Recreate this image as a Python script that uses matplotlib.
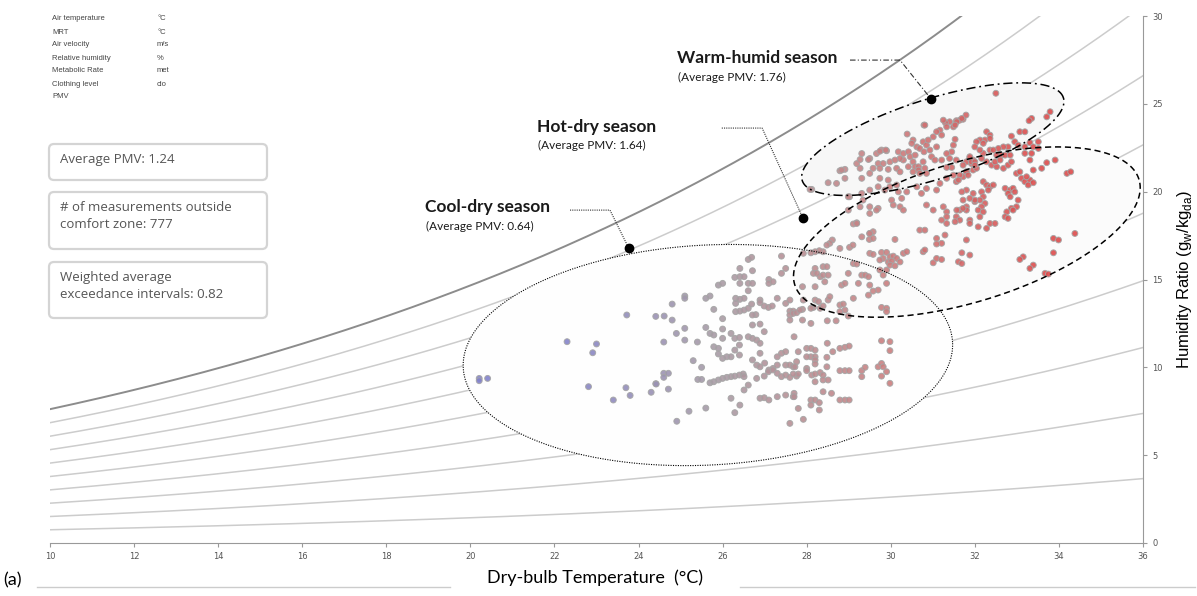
import numpy as np
import matplotlib.pyplot as plt
from matplotlib.colors import LinearSegmentedColormap, Normalize
from matplotlib.patches import FancyBboxPatch
from matplotlib.lines import Line2D
from matplotlib.transforms import IdentityTransform

cool_pts = [
    (22.3, 11.46), (23.0, 11.33), (22.91, 10.83), (20.21, 9.37), (20.21, 9.24), (20.41, 9.37),
    (22.81, 8.9), (23.4, 8.14), (23.8, 8.4), (24.3, 8.58), (24.41, 9.07), (24.71, 8.76), (23.7, 8.84),
    (23.72, 12.98), (24.41, 12.9), (24.61, 12.92), (24.8, 12.69), (24.8, 13.6), (25.1, 14.06),
    (25.1, 13.93), (25.6, 13.93), (25.7, 14.06), (24.6, 11.44), (24.9, 11.93), (25.1, 12.22),
    (25.1, 11.55), (25.4, 11.44), (24.6, 9.66), (24.6, 9.43), (24.71, 9.66), (24.91, 6.93),
    (25.2, 7.5), (25.6, 7.68), (25.3, 10.38), (25.5, 10.0), (25.41, 9.31), (25.5, 9.31), (24.42, 9.05),
    (25.79, 13.3), (26.0, 12.77), (26.0, 12.18), (25.6, 12.27), (25.9, 14.68), (26.0, 14.78),
    (26.29, 15.12), (26.41, 15.63), (26.61, 16.14), (26.69, 16.26), (26.71, 15.5), (26.41, 14.78),
    (26.61, 14.78), (26.71, 14.78), (26.61, 14.36), (26.31, 13.93), (26.41, 13.87), (26.51, 13.93),
    (26.31, 13.64), (26.31, 13.17), (26.41, 13.2), (26.51, 13.26), (26.61, 13.36), (26.69, 13.6),
    (26.89, 13.83), (26.89, 13.68), (26.79, 13.0), (26.71, 12.98), (26.99, 13.49), (27.09, 13.41),
    (27.18, 13.49), (27.3, 13.93), (27.5, 13.64), (27.6, 13.83), (27.6, 13.2), (27.6, 12.98),
    (27.6, 12.69), (27.68, 13.2), (27.1, 15.0), (27.1, 14.78), (27.2, 14.87), (27.4, 15.35),
    (27.5, 15.63), (27.4, 16.33), (26.41, 15.16), (26.51, 15.16), (26.71, 12.41), (26.89, 12.46),
    (26.99, 12.03), (25.7, 11.93), (25.79, 11.84), (26.0, 11.65), (25.79, 11.17), (25.9, 11.08),
    (25.9, 10.76), (26.0, 10.51), (26.1, 10.6), (26.2, 11.93), (26.29, 11.65), (26.4, 11.7),
    (26.4, 11.27), (26.29, 10.98), (26.4, 10.7), (26.2, 10.6), (26.61, 11.74), (26.71, 11.65),
    (26.81, 11.55), (26.89, 11.37), (26.89, 10.8), (26.71, 10.42), (26.81, 10.13), (26.89, 10.03),
    (27.0, 10.24), (27.1, 9.85), (27.2, 9.94), (27.3, 10.13), (27.4, 10.8), (27.5, 10.89),
    (27.3, 10.6), (27.5, 10.13), (27.6, 10.13), (27.68, 10.03), (27.76, 10.32),
    (25.7, 9.12), (25.79, 9.18), (25.9, 9.28), (26.0, 9.37), (26.1, 9.43), (26.2, 9.47),
    (26.29, 9.5), (26.4, 9.56), (26.49, 9.62), (26.51, 9.47), (26.81, 9.37), (26.99, 9.5),
    (27.09, 9.75), (27.2, 9.85), (27.3, 9.66), (27.4, 9.47), (27.5, 9.56), (27.6, 9.43), (27.76, 9.5),
    (26.61, 8.99), (26.51, 8.71), (26.89, 8.24), (26.99, 8.27), (27.1, 8.14), (27.3, 8.33),
    (27.5, 8.42), (27.68, 8.33), (26.2, 8.24), (26.41, 7.85), (26.29, 7.42), (27.6, 6.81),
]

mid_pts = [
    (29.11, 18.16), (29.19, 18.23), (28.61, 17.25), (28.55, 17.06), (28.48, 16.96), (29.31, 17.43),
    (29.5, 17.62), (29.58, 17.72), (29.49, 17.28), (29.58, 17.34), (30.1, 17.28), (30.69, 17.81),
    (30.81, 17.81), (31.09, 17.34), (31.29, 17.53), (31.21, 17.06), (31.09, 17.02), (30.77, 16.58),
    (30.81, 16.68), (31.01, 15.95), (31.09, 16.2), (31.21, 16.14), (28.79, 16.77), (29.02, 16.83),
    (29.1, 16.96), (28.39, 16.58), (28.3, 16.64), (28.2, 16.58), (28.1, 16.52), (27.92, 16.49),
    (29.5, 16.49), (29.58, 16.43), (29.78, 16.54), (29.9, 16.54), (29.82, 16.2), (29.74, 16.11),
    (29.98, 16.29), (30.06, 16.33), (30.14, 16.2), (30.22, 16.0), (30.3, 16.49), (30.38, 16.58),
    (29.94, 16.0), (30.02, 16.05), (29.9, 15.54), (29.74, 15.54), (29.82, 15.25), (29.98, 15.82),
    (30.1, 15.78), (29.11, 15.91), (29.19, 15.88), (28.99, 15.35), (29.31, 15.25), (29.39, 15.25),
    (29.47, 15.16), (29.23, 14.78), (29.5, 14.68), (29.7, 14.4), (29.58, 14.34), (29.47, 14.11),
    (29.9, 14.78), (28.39, 15.73), (28.48, 15.73), (28.2, 15.63), (28.32, 15.16), (28.39, 15.25),
    (28.51, 15.25), (28.43, 14.87), (28.83, 14.68), (28.91, 14.78), (28.16, 15.35), (28.24, 15.35),
    (28.2, 14.59), (27.9, 14.59), (29.11, 13.93), (28.51, 13.83), (28.55, 14.02), (28.2, 13.83),
    (28.28, 13.74), (28.16, 13.41), (28.32, 13.36), (28.39, 13.49), (28.1, 13.36), (27.92, 13.83),
    (27.9, 13.3), (28.79, 13.55), (28.87, 13.6), (28.91, 13.26), (28.79, 13.17), (28.99, 12.92),
    (29.78, 13.41), (29.9, 13.36), (29.9, 13.17), (27.68, 13.07), (27.76, 13.11), (27.84, 13.26),
    (27.9, 12.69), (28.1, 12.5), (28.49, 12.65), (28.7, 12.65), (27.7, 11.74), (29.78, 11.51),
    (29.98, 11.46), (29.98, 10.95), (28.79, 11.08), (28.91, 11.14), (29.01, 11.21), (28.49, 11.37),
    (28.62, 10.89), (27.8, 10.89), (28.0, 11.08), (28.1, 11.08), (28.2, 10.98), (28.1, 10.6),
    (28.0, 10.6), (28.2, 10.6), (28.2, 10.42), (28.2, 10.19), (28.48, 10.57), (28.48, 10.03),
    (28.0, 9.94), (28.0, 9.81), (27.72, 10.03), (27.8, 9.62), (27.68, 9.62), (28.12, 9.56),
    (28.2, 9.62), (28.32, 9.7), (28.39, 9.56), (28.2, 9.18), (28.39, 9.28), (28.51, 9.28),
    (28.79, 9.81), (28.91, 9.81), (29.01, 9.81), (29.31, 9.81), (29.31, 9.47), (29.39, 10.0),
    (29.7, 10.03), (29.78, 10.22), (29.82, 10.03), (29.9, 9.75), (29.78, 9.5), (29.98, 9.09),
    (28.39, 8.61), (28.59, 8.52), (27.7, 8.52), (27.7, 8.33), (28.1, 8.14), (28.2, 8.14),
    (28.3, 7.99), (28.79, 8.14), (28.91, 8.14), (29.01, 8.14), (27.8, 7.66), (28.1, 7.85),
    (28.3, 7.57), (27.92, 7.04),
]

warm_pts = [
    (31.72, 24.12), (31.56, 24.04), (31.4, 23.98), (31.3, 23.92), (31.49, 23.69), (31.33, 23.69),
    (31.17, 23.5), (31.21, 23.22), (31.09, 23.41), (31.01, 23.12), (30.79, 23.79), (30.39, 23.28),
    (30.53, 22.94), (30.5, 22.75), (30.62, 22.55), (30.77, 22.84), (30.85, 22.65), (30.89, 22.94),
    (30.69, 22.46), (30.79, 22.27), (30.93, 22.37), (30.97, 21.99), (31.09, 22.55), (31.53, 22.98),
    (31.49, 22.65), (31.45, 22.27), (31.33, 22.17), (31.21, 21.8), (31.4, 21.89), (31.56, 21.8),
    (31.45, 21.38), (31.33, 21.38), (31.8, 21.7), (31.88, 21.89), (31.96, 21.8), (31.92, 21.6),
    (30.18, 22.27), (30.3, 22.17), (30.42, 22.27), (30.46, 21.99), (30.3, 21.8), (30.22, 21.89),
    (30.58, 22.08), (30.53, 21.7), (30.58, 21.42), (30.66, 21.42), (30.42, 21.42), (30.66, 21.23),
    (30.53, 21.13), (30.69, 21.04), (30.77, 21.7), (30.81, 21.33), (30.85, 21.04), (31.05, 21.8),
    (29.31, 22.17), (29.5, 21.89), (29.66, 22.17), (29.78, 22.37), (29.9, 22.33), (29.7, 21.6),
    (29.82, 21.6), (29.98, 21.7), (30.1, 21.8), (29.58, 21.33), (29.74, 21.33), (29.94, 21.27),
    (30.14, 21.33), (30.22, 21.13), (28.79, 21.19), (28.91, 21.27), (29.19, 21.6), (29.27, 21.33),
    (29.5, 21.04), (29.31, 20.76), (29.74, 20.76), (29.94, 20.66), (28.91, 20.76), (28.51, 20.51),
    (28.71, 20.47), (28.12, 20.13), (29.02, 19.71), (29.31, 19.9), (29.5, 20.09), (29.7, 20.28),
    (29.86, 20.09), (29.98, 20.28), (30.14, 20.38), (30.18, 19.99), (30.38, 19.99), (30.62, 20.28),
    (30.73, 19.9), (30.85, 20.18), (31.09, 20.09), (31.17, 20.47), (31.33, 20.76), (31.56, 20.57),
    (31.72, 20.85), (31.8, 21.13), (31.96, 21.23), (32.04, 21.33), (29.27, 19.14), (29.5, 19.14),
    (29.7, 19.05), (30.06, 19.24), (30.26, 19.62), (30.22, 19.14), (30.02, 19.52), (30.3, 18.95),
    (30.85, 19.24), (31.01, 18.95), (31.25, 19.14), (31.33, 18.85), (31.33, 18.57), (31.56, 18.57),
    (31.64, 18.95), (31.8, 19.14), (31.96, 19.9), (32.0, 19.43), (31.88, 18.38), (31.33, 18.19),
    (31.21, 18.38), (32.5, 25.6), (28.08, 20.13), (28.83, 21.23), (28.99, 19.71), (29.27, 21.83),
    (29.47, 21.83), (29.74, 22.3), (29.88, 22.37), (30.81, 23.79), (31.25, 24.07), (31.64, 24.07),
    (28.99, 18.95), (29.19, 18.19), (29.5, 18.76), (29.66, 18.95), (29.34, 19.52), (29.5, 17.62),
]

hot_pts = [
    (31.79, 24.36), (31.69, 24.17), (31.57, 23.98), (31.53, 23.79), (33.35, 24.17), (33.29, 24.04),
    (33.79, 24.55), (33.71, 24.26), (32.28, 23.41), (32.36, 23.22), (32.24, 22.94), (32.36, 23.03),
    (32.12, 22.94), (32.04, 22.84), (32.2, 22.75), (32.0, 22.55), (32.2, 22.18), (32.12, 22.37),
    (32.36, 22.37), (32.87, 23.16), (33.07, 23.41), (33.19, 23.41), (32.95, 22.84), (33.03, 22.65),
    (32.79, 22.55), (32.68, 22.55), (32.56, 22.46), (32.44, 22.37), (32.52, 22.08), (32.64, 22.08),
    (32.72, 22.08), (32.84, 22.08), (33.19, 22.55), (33.19, 22.18), (33.31, 22.79), (33.51, 22.84),
    (33.51, 22.46), (33.39, 22.55), (33.35, 22.18), (31.88, 21.99), (31.92, 21.7), (32.16, 21.89),
    (32.0, 21.7), (31.72, 21.51), (31.8, 21.13), (31.64, 20.94), (31.49, 20.94), (31.61, 20.66),
    (31.84, 20.94), (32.0, 21.51), (32.28, 21.7), (32.4, 21.51), (32.52, 21.42), (32.68, 21.33),
    (32.48, 21.7), (32.6, 21.8), (32.79, 21.51), (32.87, 21.7), (32.99, 21.04), (33.07, 21.13),
    (33.39, 21.23), (33.59, 21.33), (33.71, 21.65), (33.91, 21.8), (33.31, 21.8), (34.19, 21.04),
    (34.28, 21.13), (33.11, 20.76), (33.19, 20.57), (33.31, 20.66), (33.27, 20.38), (33.39, 20.51),
    (33.23, 20.85), (32.2, 20.57), (32.28, 20.38), (32.36, 20.28), (32.44, 20.38), (32.32, 20.09),
    (32.16, 19.99), (32.2, 19.71), (32.12, 19.52), (32.24, 19.33), (32.16, 19.14), (32.08, 18.95),
    (32.2, 18.85), (32.12, 18.57), (32.0, 19.52), (31.88, 19.62), (31.8, 20.09), (31.69, 19.99),
    (31.72, 19.52), (31.8, 18.95), (31.72, 19.05), (31.57, 18.95), (31.64, 18.38), (31.53, 18.29),
    (32.72, 20.19), (32.84, 20.09), (32.91, 20.19), (32.79, 19.9), (32.95, 19.99), (32.84, 19.71),
    (33.03, 19.52), (32.99, 19.14), (32.87, 19.05), (32.76, 18.85), (32.91, 18.95), (32.72, 18.57),
    (32.79, 18.48), (32.36, 18.19), (32.48, 18.19), (32.28, 17.91), (32.08, 18.0), (31.88, 18.19),
    (33.87, 17.34), (33.99, 17.25), (34.38, 17.62), (33.87, 16.52), (31.8, 17.25), (31.69, 16.52),
    (31.88, 16.39), (31.61, 16.01), (31.69, 15.91), (33.15, 16.29), (33.07, 16.14), (33.39, 15.82),
    (33.31, 15.63), (33.67, 15.35), (33.75, 15.31),
]

rh_levels = [10, 20, 30, 40, 50, 60, 70, 80, 90]

side_rows = ["Air temperature", "MRT", "Air velocity", "Relative humidity",
             "Metabolic Rate", "Clothing level", "PMV"]
side_units = ["°C", "°C", "m/s", "%", "met", "clo", ""]

box_texts = ["Average PMV: 1.24",
             "# of measurements outside\ncomfort zone: 777",
             "Weighted average\nexceedance intervals: 0.82"]

seasons = ["Warm-humid season", "Hot-dry season", "Cool-dry season"]
season_pmv = [1.76, 1.64, 0.64]

pts = np.array(cool_pts + mid_pts + warm_pts + hot_pts)
t_db, w_hr = pts[:, 0], pts[:, 1]


def hum_ratio(t, rh):
    ps = 610.94 * np.exp(17.625 * t / (t + 243.04))
    pw = rh / 100.0 * ps
    return 622.0 * pw / (101325.0 - pw)


fig = plt.figure(figsize=(11.97, 5.96), dpi=100)
ax = fig.add_axes([50 / 1197, 53 / 596, 1093 / 1197, 527 / 596])
ax.set_xlim(10, 36)
ax.set_ylim(0, 30)

tt = np.linspace(10, 36, 300)
for rh in rh_levels:
    ax.plot(tt, hum_ratio(tt, rh), color='#cccccc', lw=1.1, zorder=1)
ax.plot(tt, hum_ratio(tt, 100), color='#8c8c8c', lw=1.4, zorder=1)


def ellipse(cx, cy, a, b, ang, **kw):
    # a, b in pixels so the shape keeps its tilt on the stretched axes
    c = ax.transData.transform((cx, cy))
    th = np.linspace(0, 2 * np.pi, 400)
    r = np.deg2rad(ang)
    x = c[0] + a * np.cos(th) * np.cos(r) - b * np.sin(th) * np.sin(r)
    y = c[1] + a * np.cos(th) * np.sin(r) + b * np.sin(th) * np.cos(r)
    d = ax.transData.inverted().transform(np.column_stack([x, y]))
    fc = kw.pop('fc', 'none')
    if fc != 'none':
        ax.fill(d[:, 0], d[:, 1], color=fc, zorder=2, lw=0)
    ax.plot(d[:, 0], d[:, 1], color='black', zorder=4, **kw)


ellipse(25.65, 10.70, 245, 110, 3, lw=0.8, ls=(0, (1, 1.2)), fc='#fefefe')
ellipse(31.81, 17.70, 180, 70, 17, lw=1.1, ls=(0, (4, 2.5)), fc='#fbfbfb')
ellipse(31.0, 22.99, 137, 40, 17.6, lw=1.1, ls=(0, (6, 2.5, 1.2, 2.5)), fc='#f7f7f7')

cmap = LinearSegmentedColormap.from_list('pmv', ['#8282cc', '#a89ca6', '#c98283', '#dc4c4c'])
ax.scatter(t_db, w_hr, c=t_db, cmap=cmap, norm=Normalize(22, 33.5), s=18,
           edgecolors='#a5a5a5', linewidths=0.7, alpha=0.9, zorder=3)

# season labels with leader lines
lead = [
    ([29.03, 30.22, 30.96], [27.49, 27.49, 25.27], (0, (5, 2, 1, 2)), 24.91, 27.6, 26.5),
    ([25.98, 26.94, 27.91], [23.62, 23.62, 18.5], (0, (1, 1)), 21.58, 23.68, 22.65),
    ([22.37, 23.32, 23.77], [18.95, 18.95, 16.77], (0, (1, 1)), 18.92, 19.12, 18.04),
]
for (lx, ly, ls, tx, ty, sy), name, pmv in zip(lead, seasons, season_pmv):
    ax.plot(lx, ly, color='#333333', lw=0.8, ls=ls, zorder=5)
    ax.plot(lx[-1], ly[-1], 'o', color='black', ms=6, zorder=6)
    ax.text(tx, ty, name, fontsize=12.5, fontweight='bold', family='Lato',
            va='center', ha='left', color='#1a1a1a')
    ax.text(tx + 0.02, sy, '(Average PMV: %.2f)' % pmv, fontsize=8.5, family='Lato',
            va='center', ha='left', color='#1a1a1a')

for s in ['left', 'top']:
    ax.spines[s].set_visible(False)
for s in ['bottom', 'right']:
    ax.spines[s].set_color('#999999')
ax.yaxis.tick_right()
ax.set_xticks(range(10, 37, 2))
ax.set_yticks(range(0, 31, 5))
ax.tick_params(labelsize=6, colors='#999999', labelcolor='#555555', length=3)
ax.set_ylabel('Humidity Ratio (g$_{\\mathregular{w}}$/kg$_{\\mathregular{da}}$)',
              family='Liberation Sans', fontsize=12, labelpad=9)
ax.yaxis.set_label_position('right')

# top-left input list
for i, (r, u) in enumerate(zip(side_rows, side_units)):
    y = 1 - (19 + 13 * i) / 596
    fig.text(52 / 1197, y, r, fontsize=5.5, color='#444444', va='center', family='Liberation Sans')
    fig.text(157 / 1197, y, u, fontsize=5.5, color='#444444', va='center', family='Liberation Sans')

# summary boxes (pixel coordinates)
box_rows = [(144, 36), (192, 57), (262, 56)]
for (top, h), txt in zip(box_rows, box_texts):
    p = FancyBboxPatch((49, 596 - top - h), 218, h, boxstyle='round,pad=0,rounding_size=5',
                       transform=IdentityTransform(), fc='white', ec='#d4d4d4', lw=1.6)
    fig.add_artist(p)
    fig.text(60 / 1197, 1 - (top + 9) / 596, txt, fontsize=9.5, color='#555555',
             va='top', ha='left', family='Open Sans', linespacing=1.45)

fig.text(595 / 1197, 1 - 578 / 596, 'Dry-bulb Temperature  (°C)', fontsize=13,
         family='Lato', ha='center', va='center')
fig.text(3 / 1197, 1 - 580 / 596, '(a)', fontsize=13, family='Lato', ha='left', va='center')
fig.add_artist(Line2D([37 / 1197, 450 / 1197], [1 - 587 / 596] * 2, color='#cccccc', lw=1))
fig.add_artist(Line2D([740 / 1197, 1195 / 1197], [1 - 587 / 596] * 2, color='#cccccc', lw=1))

fig.savefig('out.png', dpi=100)
